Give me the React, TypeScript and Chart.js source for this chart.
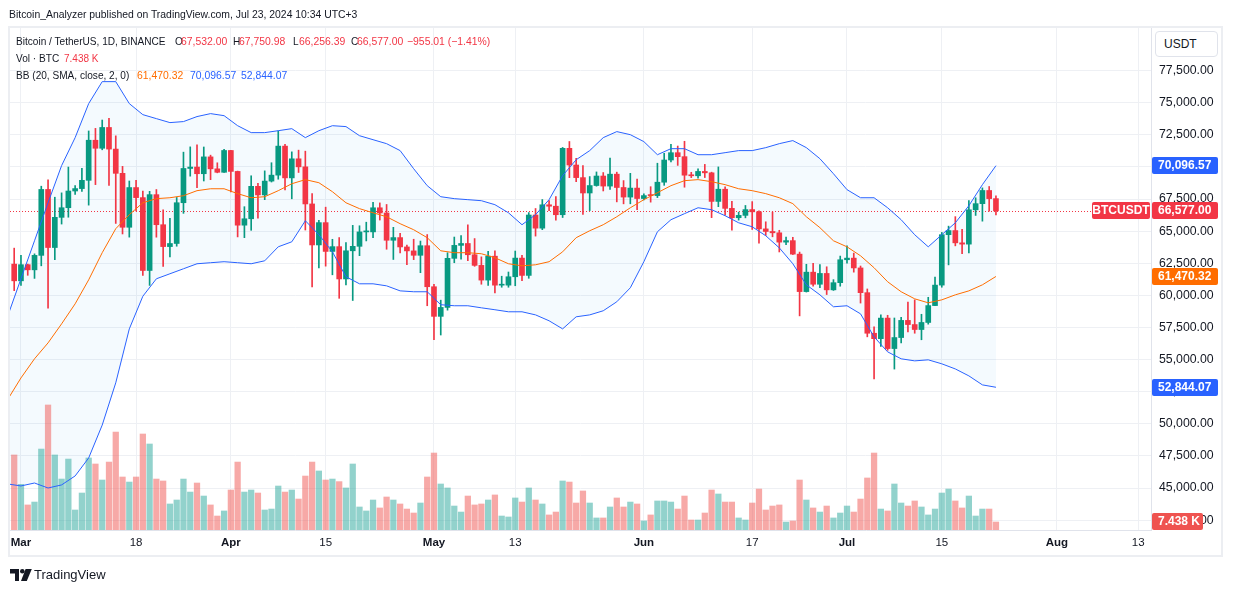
import React, { useEffect, useRef } from 'react';
import { Chart, registerables } from 'chart.js';

Chart.register(...registerables);

// Day index 0 = Mar 1, 2024; first candle is Feb 29 (day -1)
const FIRST_DAY = -1;

const opens = [
  62432, 61131, 62388, 61987, 63114, 68246, 63724, 66074, 66823, 68124,
  68313, 68956, 72078, 71452, 73072, 71389, 69500, 65301, 68393, 67610,
  61937, 67841, 65501, 63797, 64038, 67212, 69880, 69988, 69470, 70781,
  69851, 69582, 71280, 69650, 65464, 65963, 68488, 67821, 68896, 69360,
  71620, 69146, 70631, 70006, 67117, 63925, 65662, 63420, 63793, 61277,
  63470, 63818, 64940, 64941, 66819, 66414, 64290, 64498, 63770, 63462,
  63119, 63866, 60672, 58365, 59061, 62882, 63892, 64038, 63162, 62334,
  61188, 63050, 60793, 60794, 61448, 62901, 61553, 66256, 65232, 67052,
  66941, 66278, 71447, 70148, 69167, 67970, 68550, 69291, 68508, 69436,
  68398, 67652, 68352, 67540, 67767, 67766, 68810, 70538, 71108, 70799,
  69356, 69310, 69648, 69540, 67314, 68264, 66773, 66044, 66228, 66677,
  66504, 65175, 64974, 64870, 64144, 64262, 63210, 60293, 61806, 60865,
  61706, 60428, 60987, 62772, 62900, 62135, 60209, 57050, 56629, 58230,
  55858, 56715, 58050, 57726, 57340, 57889, 59204, 60798, 64724, 65044,
  64088, 63988, 66660, 67140, 68165, 67532.0,
];

const highs = [
  63676, 63114, 62433, 63232, 68499, 69000, 67641, 67980, 69990, 68541,
  69888, 72800, 73000, 73650, 73777, 72420, 70043, 68904, 68956, 68124,
  68100, 68240, 66650, 65999, 67623, 71150, 71561, 71728, 71552, 70916,
  70321, 71366, 71288, 69674, 66904, 69310, 68726, 69692, 70326, 72798,
  71758, 71172, 71306, 71227, 67929, 65840, 66867, 64365, 64499, 64118,
  65450, 65419, 65696, 67234, 67199, 67075, 65298, 64820, 63923, 64370,
  64228, 64734, 60860, 59625, 63320, 64540, 64646, 65500, 64422, 62999,
  63421, 63469, 61490, 61818, 63450, 63118, 66444, 66762, 67460, 67387,
  67700, 71516, 71979, 70666, 70096, 69250, 69610, 69562, 70688, 69592,
  68936, 69500, 69044, 67900, 68460, 70288, 71063, 71758, 71626, 71997,
  69582, 69857, 70196, 69590, 69999, 68449, 67320, 66478, 66999, 67299,
  66588, 65728, 66483, 65067, 64547, 64521, 63370, 62420, 62488, 62389,
  62225, 61224, 63059, 63862, 63289, 62286, 60498, 57546, 58475, 58449,
  58237, 58296, 59470, 59650, 58527, 59850, 61421, 64900, 65389, 66129,
  65133, 67386, 67598, 68367, 68475, 67750.98,
];

const lows = [
  60365, 60777, 61561, 61320, 62300, 59005, 62779, 65551, 66083, 67861,
  68095, 67025, 68621, 71333, 68555, 65600, 64780, 64533, 66565, 61555,
  60775, 64529, 62260, 63000, 63826, 66385, 69280, 68380, 68904, 69009,
  69540, 69563, 68063, 64550, 64493, 65065, 66011, 67448, 68824, 69043,
  68210, 67518, 69567, 65087, 60661, 62134, 62274, 61600, 59769, 60803,
  59600, 63090, 64238, 64500, 65864, 63590, 62794, 63297, 62391, 62781,
  61766, 59192, 56553, 56912, 58848, 62541, 62822, 62700, 62261, 60866,
  60770, 60187, 60631, 60632, 60749, 61143, 61330, 64614, 65114, 66600,
  65857, 66060, 69163, 68842, 66300, 66600, 68500, 68128, 68250, 67278,
  67125, 67128, 66670, 67428, 67257, 67612, 68567, 70384, 70119, 68420,
  69168, 69130, 69172, 66051, 66905, 66252, 65078, 65857, 66035, 65130,
  64060, 64666, 64559, 63379, 63944, 63178, 58402, 60257, 60712, 60607,
  60063, 60384, 60712, 62497, 61806, 59400, 56771, 53486, 56018, 55724,
  54260, 56289, 57158, 57050, 56542, 57757, 59194, 60632, 62373, 63854,
  63238, 63301, 66222, 65777, 66560, 66256.39,
];

const closes = [
  61131, 62388, 61987, 63114, 68246, 63724, 66074, 66823, 68124, 68313,
  68956, 72078, 71452, 73072, 71389, 69500, 65301, 68393, 67610, 61937,
  67841, 65501, 63797, 64038, 67212, 69880, 69988, 69470, 70781, 69851,
  69582, 71280, 69650, 65464, 65963, 68488, 67821, 68896, 69360, 71620,
  69146, 70631, 70006, 67117, 63925, 65662, 63420, 63793, 61277, 63470,
  63818, 64940, 64941, 66819, 66414, 64290, 64498, 63770, 63462, 63119,
  63866, 60672, 58365, 59061, 62882, 63892, 64038, 63162, 62334, 61188,
  63050, 60793, 60794, 61448, 62901, 61553, 66256, 65232, 67052, 66941,
  66278, 71447, 70148, 69167, 67970, 68550, 69291, 68508, 69436, 68398,
  67652, 68352, 67540, 67767, 67766, 68810, 70538, 71108, 70799, 69356,
  69310, 69648, 69540, 67314, 68264, 66773, 66044, 66228, 66677, 66504,
  65175, 64974, 64870, 64144, 64262, 63210, 60293, 61806, 60865, 61706,
  60428, 60987, 62772, 62900, 62135, 60209, 57050, 56629, 58230, 55858,
  56715, 58050, 57726, 57340, 57889, 59204, 60798, 64724, 65044, 64088,
  63988, 66660, 67140, 68165, 67532, 66577.0,
];

// volume, thousand BTC
const volumes = [
  69.8, 42.5, 23.3, 26.0, 75.3, 116.3, 69.8, 47.4, 66.0, 18.6,
  34.4, 67.0, 61.4, 46.5, 63.2, 91.1, 49.3, 44.6, 49.3, 89.3,
  80.0, 47.4, 45.6, 24.2, 27.9, 47.4, 35.3, 43.7, 31.6, 23.3,
  13.0, 17.7, 37.2, 63.2, 35.3, 37.2, 34.4, 18.6, 19.5, 40.9,
  35.3, 37.2, 28.8, 50.2, 63.2, 54.9, 46.5, 47.4, 45.0, 39.1,
  61.4, 21.4, 17.7, 27.9, 20.5, 30.7, 27.9, 24.2, 19.5, 15.8,
  25.1, 49.3, 71.6, 42.8, 39.1, 22.3, 16.7, 31.6, 23.3, 24.2,
  27.9, 32.6, 13.0, 12.1, 29.8, 26.0, 39.1, 27.9, 24.2, 14.0,
  16.7, 45.6, 44.6, 25.1, 36.3, 25.1, 11.2, 11.2, 21.4, 29.8,
  21.4, 26.0, 24.2, 8.4, 14.0, 27.0, 27.0, 26.0, 19.5, 31.6,
  9.3, 9.3, 15.8, 37.2, 33.5, 26.0, 26.0, 11.2, 9.3, 25.1,
  38.1, 18.6, 22.3, 23.3, 7.4, 8.4, 46.5, 27.9, 20.5, 16.7,
  22.3, 11.2, 15.8, 22.3, 16.7, 28.8, 48.4, 71.6, 19.5, 17.7,
  42.8, 25.1, 22.3, 27.0, 21.4, 14.0, 19.5, 34.4, 38.1, 27.0,
  20.5, 31.6, 13.0, 19.5, 19.5, 7.438,
];

// Bollinger Bands (20, 2)
const bbDays = [
  -2, 0, 2, 4, 6, 8, 10, 12, 14, 16, 18, 20, 22, 24, 26, 28, 30, 32, 34, 36,
  38, 40, 42, 44, 46, 48, 50, 52, 54, 56, 58, 60, 62, 64, 66, 68, 70, 72, 74, 76,
  78, 80, 82, 84, 86, 88, 90, 92, 94, 96, 98, 100, 102, 104, 106, 108, 110, 112, 114, 116,
  118, 120, 122, 124, 126, 128, 130, 132, 134, 136, 138, 140, 142, 144,
];
const bbUpper = [
  58330, 61290, 64250, 67210, 70100, 72280, 74930, 76640, 76640, 74930, 74070, 73760, 73450, 73530, 73920, 74150, 73990, 73210, 72670, 72670,
  72820, 72980, 72280, 72820, 73210, 73140, 72430, 72120, 71810, 71270, 69860, 68540, 67680, 67530, 67450, 67370, 67060, 66430, 65500, 66280,
  67450, 69320, 70560, 71270, 72280, 72750, 72510, 71970, 70950, 71420, 71420, 70950, 70950, 71110, 71270, 71270, 71500, 71810, 72050, 71500,
  70640, 69470, 68230, 67600, 67600, 66820, 65890, 64720, 63780, 64720, 65650, 66980, 68620, 70096.57,
];
const bbBasis = [
  51860, 53570, 55060, 56300, 57780, 59340, 61210, 63320, 65190, 66280, 67210, 67530, 67600, 67760, 68150, 68300, 68300, 67920, 67600, 67680,
  68150, 68690, 69010, 68770, 68070, 67210, 66750, 66430, 66120, 65580, 65110, 64490, 63470, 63320, 63320, 63240, 62930, 62460, 62300, 62380,
  62620, 63390, 64490, 65030, 65500, 66120, 66820, 67450, 67990, 68540, 68930, 69010, 68850, 68620, 68300, 68150, 67920, 67600, 67140, 66120,
  65270, 64250, 63780, 63080, 62150, 61060, 60280, 59730, 59420, 59650, 60040, 60350, 60820, 61470.32,
];
const bbLower = [
  45320, 45160, 45390, 45000, 45240, 45940, 47340, 49900, 53190, 57390, 59930, 61290, 61680, 62070, 62460, 62540, 62620, 62540, 62460, 62690,
  63780, 64170, 65810, 64720, 63390, 61450, 60900, 60900, 60740, 60350, 60280, 60280, 59270, 59190, 59190, 59030, 58880, 58720, 58720, 58480,
  58020, 57390, 58330, 58480, 58800, 59500, 60590, 62620, 64950, 65890, 66360, 66820, 66670, 66200, 65650, 65340, 64640, 63700, 62460, 60820,
  60040, 59110, 59190, 58560, 56770, 55600, 55060, 54900, 54980, 54670, 54270, 53730, 53030, 52844.07,
];

const timeTickDays = [0, 17, 31, 45, 61, 73, 92, 108, 122, 136, 153, 165];
const timeTickLabels = ['Mar', '18', 'Apr', '15', 'May', '13', 'Jun', '17', 'Jul', '15', 'Aug', '13'];
const monthLabels = ['Mar', 'Apr', 'May', 'Jun', 'Jul', 'Aug'];
const priceTicks = [
  42500, 45000, 47500, 50000, 52500, 55000, 57500, 60000, 62500, 65000, 67500, 70000, 72500, 75000, 77500,
];

const X_MIN = -1.62;
const X_MAX = 166.9;
const Y_MIN = 41731;
const Y_MAX = 80816;
const VOL_MAX = 467;

const UP = '#089981';
const DOWN = '#F23645';
const BLUE = '#2962FF';
const ORANGE = '#FF6D00';
const TEXT = '#131722';
const GRID = '#eef0f4';
const FONT = '"Liberation Sans", Arial, sans-serif';

const fmt2 = (v: number) =>
  v.toLocaleString('en-US', { minimumFractionDigits: 2, maximumFractionDigits: 2 });

function drawTag(ctx: any, x: number, yc: number, w: number, text: string, bg: string, center = false) {
  const h = 17;
  const top = Math.round(yc - h / 2);
  ctx.save();
  ctx.fillStyle = bg;
  ctx.beginPath();
  if (ctx.roundRect) ctx.roundRect(x, top, w, h, 2);
  else ctx.rect(x, top, w, h);
  ctx.fill();
  ctx.fillStyle = '#ffffff';
  ctx.font = `bold 12px ${FONT}`;
  ctx.textBaseline = 'middle';
  ctx.textAlign = center ? 'center' : 'left';
  ctx.fillText(text, center ? x + w / 2 : x + 6, top + h / 2 + 0.5);
  ctx.restore();
}

const overlayPlugin = {
  id: 'tvOverlay',
  beforeDatasetsDraw(chart: any) {
    const { ctx, chartArea, scales } = chart;
    const last = closes[closes.length - 1];
    const y = Math.round(scales.y.getPixelForValue(last)) + 0.5;
    ctx.save();
    ctx.strokeStyle = DOWN;
    ctx.lineWidth = 1;
    ctx.setLineDash([1, 2]);
    ctx.beginPath();
    ctx.moveTo(chartArea.left, y);
    ctx.lineTo(chartArea.right - 60, y);
    ctx.stroke();
    ctx.restore();
  },
  afterDraw(chart: any) {
    const { ctx, chartArea, scales } = chart;
    const ax = chartArea.right + 1;
    const n = closes.length - 1;
    const lastClose = closes[n];
    const priceColor = closes[n] >= opens[n] ? UP : DOWN;
    const m = bbUpper.length - 1;
    drawTag(ctx, ax, scales.y.getPixelForValue(bbUpper[m]), 66, fmt2(bbUpper[m]), BLUE);
    drawTag(ctx, ax, scales.y.getPixelForValue(bbBasis[m]), 66, fmt2(bbBasis[m]), ORANGE);
    drawTag(ctx, ax, scales.y.getPixelForValue(bbLower[m]), 66, fmt2(bbLower[m]), BLUE);
    const yc = scales.y.getPixelForValue(lastClose);
    drawTag(ctx, chartArea.right - 59, yc, 58, 'BTCUSDT', priceColor, true);
    drawTag(ctx, ax, yc, 66, fmt2(lastClose), priceColor);
    const vy = Math.min(scales.vol.getPixelForValue(volumes[n]), chartArea.bottom - 9);
    drawTag(ctx, ax, vy, 51, volumes[n].toFixed(3) + ' K', '#ef5350');
  },
};

function Txt({ x, y, color = TEXT, size = 10.4, bold = false, children }: any) {
  return (
    <span
      style={{
        position: 'absolute',
        left: x,
        top: y - size * 0.6,
        fontSize: size,
        lineHeight: `${size * 1.2}px`,
        color,
        fontWeight: bold ? 700 : 400,
        whiteSpace: 'nowrap',
        fontFamily: FONT,
      }}
    >
      {children}
    </span>
  );
}

export default function App() {
  const ref = useRef<HTMLCanvasElement>(null);

  useEffect(() => {
    const canvas = ref.current;
    if (!canvas) return;
    const xs = closes.map((_, k) => FIRST_DAY + k);
    const isUp = closes.map((c, k) => c >= opens[k]);
    const candleColors = isUp.map((u) => (u ? UP : DOWN));
    const volColors = isUp.map((u) => (u ? 'rgba(38,166,154,0.5)' : 'rgba(239,83,80,0.5)'));

    const lineDs = (vals: number[], color: string, extra: any = {}) => ({
      type: 'line',
      data: bbDays.map((d, k) => ({ x: d, y: vals[k] })),
      borderColor: color,
      borderWidth: 1,
      pointRadius: 0,
      tension: 0,
      fill: false,
      order: 0,
      ...extra,
    });

    const chart = new Chart(canvas, {
      type: 'bar',
      data: {
        datasets: [
          lineDs(bbUpper, BLUE, { fill: '+2', backgroundColor: 'rgba(33,150,243,0.05)' }),
          lineDs(bbBasis, ORANGE),
          lineDs(bbLower, BLUE),
          {
            type: 'bar',
            data: xs.map((x, k) => ({ x, y: volumes[k] })),
            yAxisID: 'vol',
            backgroundColor: volColors,
            barThickness: 5.6,
            grouped: false,
            order: 3,
          },
          {
            type: 'bar',
            data: xs.map((x, k) => ({ x, y: [lows[k], highs[k]] })),
            backgroundColor: candleColors,
            barThickness: 1,
            grouped: false,
            order: 2,
          },
          {
            type: 'bar',
            data: xs.map((x, k) => ({ x, y: [opens[k], closes[k]] })),
            backgroundColor: candleColors,
            barThickness: 5,
            minBarLength: 1,
            grouped: false,
            order: 1,
          },
        ] as any,
      },
      options: {
        animation: false,
        responsive: false,
        devicePixelRatio: 1,
        events: [],
        layout: { padding: { left: 10, top: 28, right: 11, bottom: 36 } },
        plugins: {
          legend: { display: false },
          tooltip: { enabled: false },
          filler: { propagate: false, drawTime: 'beforeDatasetsDraw' },
        } as any,
        scales: {
          x: {
            type: 'linear',
            min: X_MIN,
            max: X_MAX,
            offset: false,
            grid: { offset: false, color: GRID, drawTicks: false },
            border: { display: true, color: '#e0e3eb' },
            ticks: {
              autoSkip: false,
              maxRotation: 0,
              padding: 6,
              color: TEXT,
              font: (c: any) => {
                const i = timeTickDays.indexOf(c.tick ? c.tick.value : -999);
                const lbl = i >= 0 ? timeTickLabels[i] : '';
                return { family: FONT, size: 11.5, weight: monthLabels.includes(lbl) ? 'bold' : 'normal' };
              },
              callback: (v: any) => {
                const i = timeTickDays.indexOf(Number(v));
                return i >= 0 ? timeTickLabels[i] : '';
              },
            },
            afterBuildTicks: (s: any) => {
              s.ticks = timeTickDays.map((v) => ({ value: v }));
            },
            afterFit: (s: any) => {
              s.height = 26;
            },
          },
          y: {
            type: 'linear',
            position: 'right',
            min: Y_MIN,
            max: Y_MAX,
            grid: { color: GRID, drawTicks: false },
            border: { display: true, color: '#e0e3eb' },
            ticks: {
              padding: 8,
              color: TEXT,
              font: { family: FONT, size: 12.3 },
              callback: (v: any) => fmt2(Number(v)),
            },
            afterBuildTicks: (s: any) => {
              s.ticks = priceTicks.map((v) => ({ value: v }));
            },
            afterFit: (s: any) => {
              s.width = 71;
            },
          },
          vol: {
            type: 'linear',
            display: false,
            min: 0,
            max: VOL_MAX,
          },
        } as any,
      },
      plugins: [overlayPlugin as any],
    });
    return () => chart.destroy();
  }, []);

  const L = 10.1; // label text size
  return (
    <div
      style={{
        position: 'absolute',
        left: 0,
        top: 0,
        width: 1233,
        height: 592,
        background: '#ffffff',
        overflow: 'hidden',
        fontFamily: FONT,
      }}
    >
      <canvas ref={ref} width={1233} height={592} style={{ position: 'absolute', left: 0, top: 0 }} />
      <div
        style={{
          position: 'absolute',
          left: 8,
          top: 26,
          width: 1211,
          height: 527,
          border: '2px solid #eceef2',
          pointerEvents: 'none',
        }}
      />
      <Txt x={9} y={15} size={10.4}>
        Bitcoin_Analyzer published on TradingView.com, Jul 23, 2024 10:34 UTC+3
      </Txt>
      <Txt x={16} y={42} size={L}>Bitcoin / TetherUS, 1D, BINANCE</Txt>
      <Txt x={175} y={42} size={L}>O</Txt>
      <Txt x={181} y={42} color={DOWN}>67,532.00</Txt>
      <Txt x={233} y={42} size={L}>H</Txt>
      <Txt x={239} y={42} color={DOWN}>67,750.98</Txt>
      <Txt x={293} y={42} size={L}>L</Txt>
      <Txt x={299} y={42} color={DOWN}>66,256.39</Txt>
      <Txt x={351} y={42} size={L}>C</Txt>
      <Txt x={357} y={42} color={DOWN}>66,577.00</Txt>
      <Txt x={407} y={42} color={DOWN}>−955.01 (−1.41%)</Txt>
      <Txt x={16} y={59} size={L}>Vol · BTC</Txt>
      <Txt x={64} y={59} color={DOWN} size={10}>7.438 K</Txt>
      <Txt x={16} y={76} size={L}>BB (20, SMA, close, 2, 0)</Txt>
      <Txt x={137} y={76} color={ORANGE}>61,470.32</Txt>
      <Txt x={190} y={76} color={BLUE}>70,096.57</Txt>
      <Txt x={241} y={76} color={BLUE}>52,844.07</Txt>
      <div
        style={{
          position: 'absolute',
          left: 1155,
          top: 31,
          width: 61,
          height: 24,
          border: '1px solid #e0e3eb',
          borderRadius: 4,
          background: '#fff',
          boxSizing: 'content-box',
        }}
      />
      <Txt x={1164} y={44} size={12}>USDT</Txt>
      <svg
        width={22}
        height={13}
        viewBox="0 0 22 13"
        style={{ position: 'absolute', left: 10, top: 569 }}
      >
        <path d="M0 0 H9 V12 H5 V4.5 H0 Z" fill={TEXT} />
        <circle cx={12.3} cy={2.3} r={2.3} fill={TEXT} />
        <path d="M15.6 0 H21.8 L16.8 12 H11 Z" fill={TEXT} />
      </svg>
      <Txt x={34} y={575} size={13}>TradingView</Txt>
    </div>
  );
}
